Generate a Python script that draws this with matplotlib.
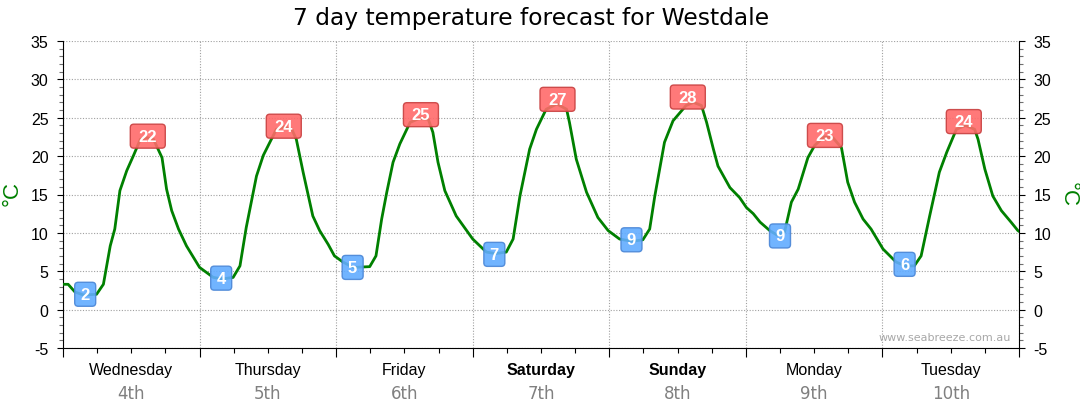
import matplotlib
matplotlib.use("Agg")
import matplotlib.pyplot as plt
import matplotlib.transforms as mtransforms
from matplotlib.patches import FancyBboxPatch
from matplotlib.ticker import MultipleLocator

# --- dane (godziny od północy środy, temperatura w °C) ---
hours = [0.0, 0.9, 2.1, 3.6, 5.9, 7.1, 8.3, 9.1, 10.0, 11.2, 12.4, 13.6, 14.8, 15.9,
         17.4, 18.2, 19.1, 20.3, 21.7, 24.0, 26.4, 28.0, 29.9, 31.1, 32.2, 34.0, 35.2,
         37.5, 38.8, 40.2, 41.0, 42.2, 43.9, 45.1, 46.6, 47.7, 49.2, 51.0, 53.9, 55.0,
         56.0, 56.9, 58.0, 59.2, 61.0, 62.6, 64.2, 65.0, 65.9, 67.1, 69.1, 72.0, 74.4,
         76.0, 77.9, 79.1, 80.3, 82.0, 83.2, 84.9, 86.8, 88.5, 89.0, 90.2, 92.0, 94.0,
         95.8, 97.8, 100.0, 101.9, 103.1, 104.0, 105.7, 107.2, 109.5, 110.8, 112.2,
         113.1, 114.3, 115.1, 117.2, 118.9, 120.1, 121.3, 122.5, 124.2, 125.5, 126.8,
         128.0, 129.2, 130.9, 132.1, 133.7, 135.3, 136.8, 137.9, 139.1, 140.6, 142.0,
         144.1, 146.4, 148.0, 149.6, 150.8, 152.3, 154.0, 155.3, 157.0, 158.6, 160.2,
         160.8, 162.0, 163.4, 164.9, 166.6, 167.8, 168.0]
temps = [3.3, 3.3, 2.3, 1.9, 2.0, 3.3, 8.3, 10.5, 15.5, 18.1, 20.1, 22.2, 22.4, 22.2,
         19.8, 15.7, 12.9, 10.5, 8.3, 5.5, 4.2, 4.0, 4.2, 5.7, 10.7, 17.4, 20.1,
         23.5, 23.8, 23.5, 22.2, 17.9, 12.2, 10.3, 8.5, 7.0, 6.2, 5.5, 5.6, 7.0,
         11.8, 15.3, 19.2, 21.6, 24.4, 24.9, 24.8, 23.1, 19.2, 15.5, 12.2, 9.2, 7.5,
         7.3, 7.5, 9.2, 14.8, 20.9, 23.5, 26.1, 26.8, 26.1, 24.4, 19.6, 15.3, 12.0,
         10.3, 9.2, 8.9, 9.1, 10.5, 14.8, 21.8, 24.6, 26.6, 27.0, 26.6,
         24.4, 20.9, 18.7, 15.9, 14.6, 13.3, 12.5, 11.4, 10.3, 9.7, 10.1,
         14.0, 15.7, 19.8, 21.4, 22.5, 22.4, 21.1, 16.6, 14.0, 11.8, 10.5,
         7.9, 6.2, 5.7, 5.7, 7.0, 12.2, 17.9, 20.5, 23.5, 24.0, 23.5,
         22.2, 18.3, 14.8, 12.9, 11.4, 10.3, 10.2]

max_hours = [14.9, 38.8, 62.9, 86.9, 109.8, 133.9, 158.3]
max_pos = [22.6, 23.9, 25.4, 27.4, 27.7, 22.7, 24.5]
max_vals = [22, 24, 25, 27, 28, 23, 24]
min_hours = [3.9, 27.8, 50.9, 75.8, 99.9, 126.0, 147.9]
min_pos = [2.0, 4.1, 5.5, 7.2, 9.1, 9.6, 5.9]
min_vals = [2, 4, 5, 7, 9, 9, 6]

days = ["Wednesday", "Thursday", "Friday", "Saturday", "Sunday", "Monday", "Tuesday"]
dates = ["4th", "5th", "6th", "7th", "8th", "9th", "10th"]
weekend = ["Saturday", "Sunday"]

SANS = ["Liberation Sans", "DejaVu Sans"]
plt.rcParams['font.family'] = SANS
plt.rcParams['axes.unicode_minus'] = False

fig = plt.figure(figsize=(10.8, 4.14), dpi=100)
ax = fig.add_axes([63/1080, 1 - 349/414, (1019 - 63)/1080, (349 - 42)/414])

ax.set_xlim(0, 168)
ax.set_ylim(-5, 35)
ax.spines['top'].set_visible(False)
ax.spines['right'].set_visible(True)

# --- osie ---
ax.yaxis.set_major_locator(MultipleLocator(5))
ax.yaxis.set_minor_locator(MultipleLocator(1))
ax.xaxis.set_major_locator(MultipleLocator(24))
ax.xaxis.set_minor_locator(MultipleLocator(6))
ax.tick_params(axis='y', which='major', length=4.5, width=0.8, pad=6,
               labelsize=11.5, left=True, right=True, labelleft=True, labelright=True)
ax.tick_params(axis='y', which='minor', length=3, width=0.8, color='#707070',
               left=True, right=True)
ax.tick_params(axis='x', which='major', length=6.5, width=0.8, labelbottom=False)
ax.tick_params(axis='x', which='minor', length=3.6, width=0.8)

ax.grid(True, which='major', color='#a0a0a0', linestyle=(0, (1, 1.5)), linewidth=0.8)
ax.yaxis.get_gridlines()[-1].set_visible(False)
ax.set_axisbelow(True)

# --- krzywa ---
ax.plot(hours, temps, color='#008000', lw=2.0, zorder=3, solid_joinstyle='round')

# --- etykiety max/min ---
def box(h, t, val, w, fc, ec):
    tr = fig.dpi_scale_trans + mtransforms.ScaledTranslation(h, t, ax.transData)
    p = FancyBboxPatch((-w/2, -0.12), w, 0.24, boxstyle="round,pad=0,rounding_size=0.035",
                       transform=tr, fc=fc, ec=ec, lw=1.0, alpha=0.9, zorder=4,
                       clip_on=False)
    ax.add_patch(p)
    ax.text(h, t, str(val), ha='center', va='center', color='white', fontsize=12,
            fontweight='bold', zorder=5)

for h, t, v in zip(max_hours, max_pos, max_vals):
    box(h, t, v, 0.35, '#ff6a6a', '#c84040')
for h, t, v in zip(min_hours, min_pos, min_vals):
    box(h, t, v, 0.21, '#62acff', '#4a86d6')

# --- opisy dni ---
trans = mtransforms.blended_transform_factory(ax.transData, fig.transFigure)
for i, (d, dt) in enumerate(zip(days, dates)):
    x = 24*i + 12
    ax.text(x, 1 - 371/414, d, transform=trans, ha='center', va='center', fontsize=11.5,
            fontweight='bold' if d in weekend else 'normal', color='black')
    ax.text(x, 1 - 394/414, dt, transform=trans, ha='center', va='center', fontsize=12,
            family='DejaVu Sans', color='#808080')

# --- tytuł i jednostki ---
fig.text(531/1080, 1 - 18/414, "7 day temperature forecast for Westdale", ha='center',
         va='center', fontsize=16.8, family='DejaVu Sans')
fig.text(12/1080, 1 - 194/414, "°C", rotation=90, ha='center', va='center',
         fontsize=16, color='#008000')
fig.text(1068/1080, 1 - 195/414, "°C", rotation=270, ha='center', va='center',
         fontsize=16, color='#008000')
ax.text(1011/1080, 1 - 338/414, "www.seabreeze.com.au", transform=fig.transFigure,
        ha='right', va='center', fontsize=8, color='#a8a8a8', family='DejaVu Sans')

fig.savefig("out.png", dpi=100)
